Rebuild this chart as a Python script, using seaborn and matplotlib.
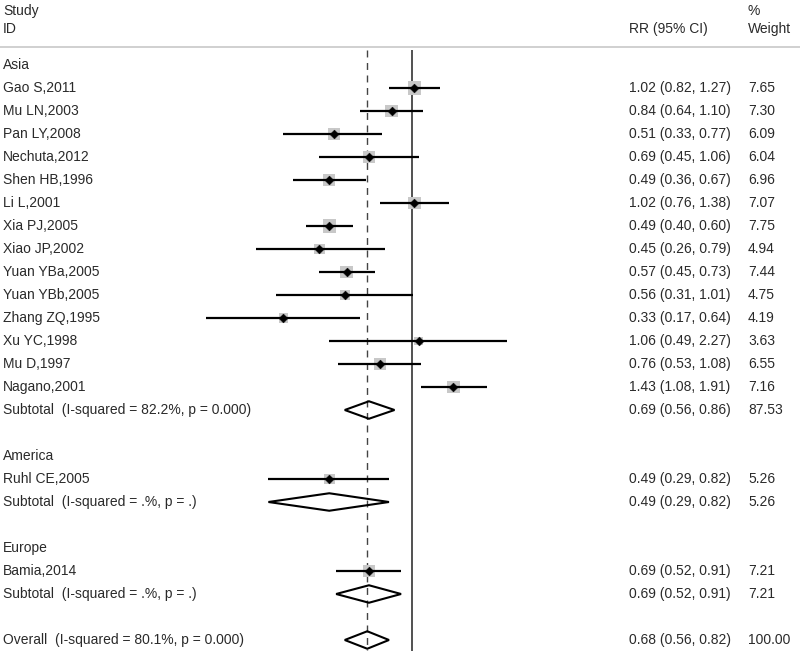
import matplotlib
matplotlib.use("Agg")
import matplotlib.pyplot as plt
import matplotlib.transforms as mtransforms
import numpy as np
import pandas as pd
import seaborn as sns

# study level data
asia_ids = ["Gao S,2011", "Mu LN,2003", "Pan LY,2008", "Nechuta,2012", "Shen HB,1996",
            "Li L,2001", "Xia PJ,2005", "Xiao JP,2002", "Yuan YBa,2005", "Yuan YBb,2005",
            "Zhang ZQ,1995", "Xu YC,1998", "Mu D,1997", "Nagano,2001"]
asia_rr = [1.02, 0.84, 0.51, 0.69, 0.49, 1.02, 0.49, 0.45, 0.57, 0.56, 0.33, 1.06, 0.76, 1.43]
asia_lo = [0.82, 0.64, 0.33, 0.45, 0.36, 0.76, 0.40, 0.26, 0.45, 0.31, 0.17, 0.49, 0.53, 1.08]
asia_hi = [1.27, 1.10, 0.77, 1.06, 0.67, 1.38, 0.60, 0.79, 0.73, 1.01, 0.64, 2.27, 1.08, 1.91]
asia_wt = ["7.65", "7.30", "6.09", "6.04", "6.96", "7.07", "7.75", "4.94", "7.44", "4.75",
           "4.19", "3.63", "6.55", "7.16"]

america_ids = ["Ruhl CE,2005"]
america_rr = [0.49]
america_lo = [0.29]
america_hi = [0.82]
america_wt = ["5.26"]

europe_ids = ["Bamia,2014"]
europe_rr = [0.69]
europe_lo = [0.52]
europe_hi = [0.91]
europe_wt = ["7.21"]

# subgroup pooled estimates
sub_names = ["Asia", "America", "Europe"]
sub_label = ["Subtotal  (I-squared = 82.2%, p = 0.000)",
             "Subtotal  (I-squared = .%, p = .)",
             "Subtotal  (I-squared = .%, p = .)"]
sub_rr = [0.69, 0.49, 0.69]
sub_lo = [0.56, 0.29, 0.52]
sub_hi = [0.86, 0.82, 0.91]
sub_wt = ["87.53", "5.26", "7.21"]

overall_label = "Overall  (I-squared = 80.1%, p = 0.000)"
overall_rr = 0.68
overall_lo = 0.56
overall_hi = 0.82
overall_wt = "100.00"

groups = [
    (asia_ids, asia_rr, asia_lo, asia_hi, asia_wt),
    (america_ids, america_rr, america_lo, america_hi, america_wt),
    (europe_ids, europe_rr, europe_lo, europe_hi, europe_wt),
]

# build one table with a row position for every line in the plot
rows = []
r = 0
for g, (ids, rr, lo, hi, wt) in enumerate(groups):
    rows.append(dict(row=r, label=sub_names[g], kind="header"))
    r += 1
    for i in range(len(ids)):
        rows.append(dict(row=r, label=ids[i], kind="study", rr=rr[i], lo=lo[i], hi=hi[i], wt=wt[i]))
        r += 1
    rows.append(dict(row=r, label=sub_label[g], kind="pooled", rr=sub_rr[g], lo=sub_lo[g],
                     hi=sub_hi[g], wt=sub_wt[g]))
    r += 2
rows.append(dict(row=r, label=overall_label, kind="pooled", rr=overall_rr, lo=overall_lo,
                 hi=overall_hi, wt=overall_wt))
df = pd.DataFrame(rows)
studies = df[df.kind == "study"].copy()
studies["w"] = studies["wt"].astype(float)
pooled = df[df.kind == "pooled"]

sns.set_theme(style="white")
plt.rcParams["font.family"] = ["Liberation Sans", "DejaVu Sans"]
txt_col = "#2a2a2a"
fs = 10

fig = plt.figure(figsize=(8, 6.51), dpi=100)
ax = fig.add_axes([0, 0, 1, 1])
ax.set_xscale("log")
px_per_log = 116.0
ax.set_xlim(np.exp(-412 / px_per_log), np.exp(388 / px_per_log))
ax.set_ylim((651 - 65) / 23, -65 / 23)
ax.axis("off")

# reference lines
top = -0.65
ax.vlines(1.0, top, 26, color="#333333", lw=1.2, zorder=1)
ax.vlines(overall_rr, top, 26, color="#444444", lw=1.0, linestyles=(0, (5, 4)), zorder=1)
ax.axhline(-0.78, color="#c8c8c8", lw=1.2)

# weight squares, CIs and point estimates
sns.scatterplot(data=studies, x="rr", y="row", size="w", sizes=(3.63 * 11.5, 7.75 * 11.5),
                marker="s", color="#c8c8c8", edgecolor="none", legend=False, ax=ax, zorder=2)
ax.hlines(studies["row"], studies["lo"], studies["hi"], color="black", lw=1.6, zorder=3)
sns.scatterplot(data=studies, x="rr", y="row", marker="D", color="black", s=20,
                edgecolor="black", legend=False, ax=ax, zorder=4)

# pooled diamonds
for _, p in pooled.iterrows():
    h = 0.38
    ax.fill([p.lo, p.rr, p.hi, p.rr, p.lo], [p.row, p.row - h, p.row, p.row + h, p.row],
            facecolor="none", edgecolor="black", lw=1.5, zorder=3)

# text columns
tr = mtransforms.blended_transform_factory(fig.transFigure, ax.transData)
x_rr = 629 / 800
x_wt = 748 / 800
for _, row in df.iterrows():
    ax.text(0.004, row.row, row.label, transform=tr, fontsize=fs, color=txt_col, va="center")
    if row.kind != "header":
        ax.text(x_rr, row.row, f"{row.rr:.2f} ({row.lo:.2f}, {row.hi:.2f})", transform=tr,
                fontsize=fs, color=txt_col, va="center")
        ax.text(x_wt, row.row, row.wt, transform=tr, fontsize=fs, color=txt_col, va="center")

ax.text(0.004, -2.35, "Study", transform=tr, fontsize=fs, color=txt_col, va="center")
ax.text(0.004, -1.57, "ID", transform=tr, fontsize=fs, color=txt_col, va="center")
ax.text(x_rr, -1.57, "RR (95% CI)", transform=tr, fontsize=fs, color=txt_col, va="center")
ax.text(x_wt, -2.35, "%", transform=tr, fontsize=fs, color=txt_col, va="center")
ax.text(x_wt, -1.57, "Weight", transform=tr, fontsize=fs, color=txt_col, va="center")

fig.savefig("out.png", dpi=100)
